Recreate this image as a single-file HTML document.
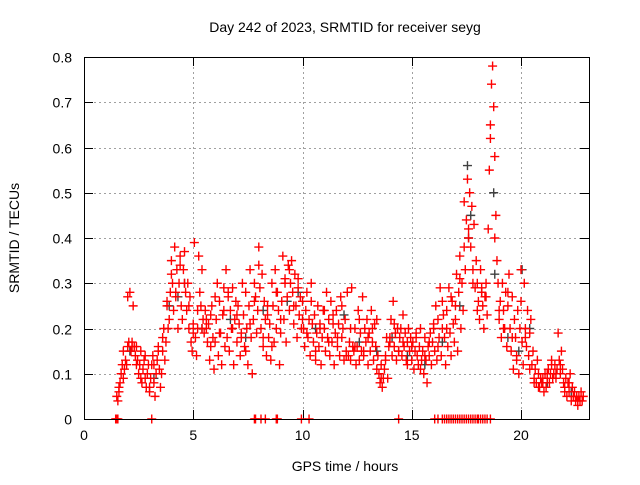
<!DOCTYPE html>
<html><head><meta charset="utf-8"><style>
body{margin:0;background:#fff}
svg text{font-family:"Liberation Sans",sans-serif;font-size:14px;fill:#000}
</style></head><body>
<svg id="chart" width="640" height="480">
<text x="345" y="32" text-anchor="middle">Day 242 of 2023, SRMTID for receiver seyg</text>
<text transform="translate(19,238) rotate(-90)" text-anchor="middle">SRMTID / TECUs</text>
<text x="345" y="471" text-anchor="middle">GPS time / hours</text>
<g id="grid"></g><g id="ticks"></g><g id="marks"></g>
<rect x="84.5" y="57.5" width="505" height="362" fill="none" stroke="#000"/>
</svg>
<script>
const xTicks=[0,5,10,15,20];
const yTicks=[0,0.1,0.2,0.3,0.4,0.5,0.6,0.7,0.8];
const yTickLabels=["0","0.1","0.2","0.3","0.4","0.5","0.6","0.7","0.8"];
const redStart=1.5, redStep=0.05;
const redValues=[0.05,0.04,0.06,0.08,0.1,0.12,0.09,0.11,0.13,0.12,
0.16,0.17,0.28,0.15,0.17,0.25,0.16,0.14,0.16,0.13,
0.1,0.12,0.15,0.08,0.11,0.13,0.09,0.07,0.1,0.12,
0.06,0.09,0.12,0.14,0.08,0.05,0.1,0.13,0.15,0.11,
0.07,0.1,0.15,0.2,0.13,0.17,0.25,0.2,0.22,0.28,
0.35,0.3,0.24,0.38,0.27,0.33,0.2,0.3,0.36,0.25,
0.22,0.33,0.37,0.28,0.24,0.3,0.2,0.27,0.17,0.15,
0.21,0.39,0.18,0.14,0.2,0.36,0.28,0.25,0.33,0.22,
0.19,0.24,0.2,0.17,0.21,0.13,0.23,0.25,0.18,0.11,
0.17,0.22,0.3,0.14,0.26,0.19,0.12,0.23,0.29,0.16,
0.33,0.18,0.27,0.15,0.24,0.2,0.29,0.12,0.22,0.26,
0.17,0.25,0.21,0.14,0.19,0.3,0.23,0.16,0.28,0.2,
0.12,0.25,0.33,0.18,0.1,0.22,0.3,0.27,0.19,0.24,
0.38,0.29,0.2,0.32,0.16,0.26,0.22,0.14,0.23,0.18,
0.21,0.13,0.3,0.25,0.17,0.33,0.2,0.28,0.24,0.12,
0.19,0.26,0.36,0.22,0.31,0.17,0.27,0.34,0.24,0.3,
0.35,0.28,0.21,0.32,0.25,0.18,0.29,0.23,0.27,0.2,
0.26,0.2,0.16,0.24,0.28,0.18,0.22,0.14,0.3,0.21,
0.17,0.23,0.13,0.19,0.25,0.16,0.21,0.12,0.18,0.24,
0.2,0.15,0.28,0.18,0.22,0.14,0.26,0.17,0.23,0.12,
0.19,0.24,0.16,0.21,0.14,0.27,0.18,0.2,0.13,0.22,
0.15,0.28,0.14,0.17,0.13,0.29,0.16,0.15,0.2,0.12,
0.16,0.24,0.13,0.19,0.15,0.27,0.14,0.2,0.17,0.22,
0.12,0.19,0.15,0.24,0.17,0.13,0.21,0.16,0.22,0.14,
0.1,0.08,0.12,0.07,0.09,0.11,0.14,0.18,0.09,0.16,
0.17,0.22,0.14,0.26,0.16,0.19,0.13,0.2,0.15,0.18,
0.2,0.14,0.23,0.16,0.19,0.13,0.17,0.2,0.15,0.18,
0.13,0.17,0.11,0.15,0.19,0.14,0.12,0.16,0.2,0.13,
0.15,0.1,0.18,0.13,0.08,0.16,0.14,0.19,0.12,0.17,
0.2,0.15,0.25,0.13,0.22,0.18,0.29,0.14,0.2,0.23,
0.18,0.12,0.24,0.16,0.29,0.19,0.14,0.26,0.21,0.17,
0.25,0.32,0.15,0.28,0.36,0.2,0.3,0.24,0.38,0.33,
0.44,0.53,0.42,0.5,0.38,0.47,0.33,0.43,0.29,0.35,
0.3,0.26,0.22,0.33,0.28,0.25,0.2,0.27,0.3,0.23,
0.42,0.55,0.62,0.74,0.78,0.69,0.58,0.45,0.35,0.3,
0.22,0.26,0.18,0.3,0.24,0.2,0.28,0.16,0.25,0.32,
0.2,0.15,0.27,0.11,0.22,0.18,0.14,0.24,0.1,0.2,
0.33,0.17,0.12,0.3,0.2,0.16,0.24,0.14,0.19,0.22,
0.12,0.15,0.09,0.11,0.08,0.13,0.1,0.07,0.09,0.08,
0.08,0.06,0.1,0.07,0.09,0.11,0.08,0.1,0.12,0.09,
0.1,0.12,0.09,0.11,0.19,0.13,0.1,0.15,0.11,0.08,
0.07,0.09,0.05,0.08,0.06,0.1,0.04,0.07,0.05,0.06,
0.04,0.05,0.03,0.05,0.04,0.06,0.04,0.05];
const redBStart=1.6, redBStep=0.2;
const redBValues=[0.07,0.15,0.27,0.16,0.12,
0.09,0.14,0.07,0.12,0.16,
0.18,0.26,0.32,0.28,0.34,
0.3,0.25,0.19,0.24,0.2,
0.22,0.16,0.27,0.19,0.24,
0.28,0.2,0.23,0.18,0.15,
0.21,0.26,0.34,0.18,0.25,
0.16,0.28,0.22,0.3,0.33,
0.25,0.31,0.22,0.19,0.26,
0.15,0.2,0.24,0.17,0.21,
0.18,0.25,0.14,0.2,0.16,
0.22,0.15,0.18,0.2,0.11,
0.09,0.13,0.18,0.21,0.15,
0.17,0.12,0.16,0.18,0.11,
0.14,0.17,0.21,0.16,0.26,
0.2,0.27,0.22,0.31,0.48,
0.4,0.3,0.24,0.29,0.27,
0.65,0.4,0.24,0.2,0.28,
0.18,0.13,0.26,0.18,0.11,
0.08,0.07,0.09,0.1,0.13,
0.1,0.12,0.06,0.08,0.05,
0.04];
const blackTimes=[2.1,3.2,3.9,4.3,4.6,5.4,6.7,7.4,8.2,9.3,9.8,10.6,11.9,12.6,13.4,14.1,14.8,15.6,16.4,17.2,17.55,17.6,17.7,18.2,18.75,18.8,19.4,19.9,20.05,20.4,21.2,22.3];
const blackValues=[0.15,0.09,0.25,0.27,0.3,0.2,0.22,0.18,0.24,0.26,0.28,0.2,0.23,0.17,0.15,0.18,0.14,0.12,0.17,0.25,0.56,0.4,0.45,0.28,0.5,0.32,0.18,0.15,0.33,0.2,0.08,0.06];
const zeroTimes=[1.45,1.5,1.55,3.1,7.8,7.85,8.1,8.3,8.8,8.85,9.95,10.3,14.4,16.05,16.2,16.4,16.5,16.6,16.7,16.8,16.9,17.0,17.1,17.2,17.3,17.4,17.5,17.6,17.7,17.8,17.9,18.0,18.05,18.15,18.25,18.35,18.45,18.6];

const X0=84,PXH=21.85,Y0=419,PXU=452.5;
const sx=t=>X0+t*PXH, sy=v=>Y0-v*PXU;
const NS="http://www.w3.org/2000/svg";
const grid=document.getElementById('grid'),ticks=document.getElementById('ticks'),marks=document.getElementById('marks');
function line(p,x1,y1,x2,y2,st,dash){const l=document.createElementNS(NS,'line');l.setAttribute('x1',x1);l.setAttribute('y1',y1);l.setAttribute('x2',x2);l.setAttribute('y2',y2);l.setAttribute('stroke',st);if(dash)l.setAttribute('stroke-dasharray',dash);p.appendChild(l);return l;}
function txt(x,y,s,anchor){const t=document.createElementNS(NS,'text');t.setAttribute('x',x);t.setAttribute('y',y);t.setAttribute('text-anchor',anchor);t.textContent=s;ticks.appendChild(t);return t;}
xTicks.forEach(v=>{const x=Math.round(sx(v))+0.5;
 if(v>0){const g=line(grid,x,57,x,419,'#a0a0a0','2,3');
 
 }
 line(ticks,x,419,x,410,'#000');line(ticks,x,57,x,66,'#000');
 const t=txt(sx(v),440,String(v),'middle');
 
 });
yTicks.forEach((v,i)=>{const y=Math.round(sy(v))+0.5;
 if(v>0&&v<0.8){const g=line(grid,84,y,589,y,'#a0a0a0','2,3');
 
 }
 line(ticks,84,y,93,y,'#000');line(ticks,589,y,580,y,'#000');
 const t=txt(72,y+5,yTickLabels[i],'end');
 
 });
function plus(x,y,c,name){const p=document.createElementNS(NS,'path');
 p.setAttribute('d',`M${x-4.5},${y}H${x+4.5}M${x},${y-4.5}V${y+4.5}`);p.setAttribute('stroke',c);p.setAttribute('stroke-width','1.4');
 
 
 marks.appendChild(p);}
blackTimes.forEach((t,i)=>plus(sx(t),sy(blackValues[i]),'#404040','black-point'));
redValues.forEach((v,i)=>plus(sx(redStart+i*redStep),sy(v),'#ff0000','red-point'));
redBValues.forEach((v,i)=>plus(sx(redBStart+i*redBStep),sy(v),'#ff0000','red-point'));
zeroTimes.forEach(t=>plus(sx(t),sy(0),'#ff0000','zero-point'));
</script>
</body></html>
